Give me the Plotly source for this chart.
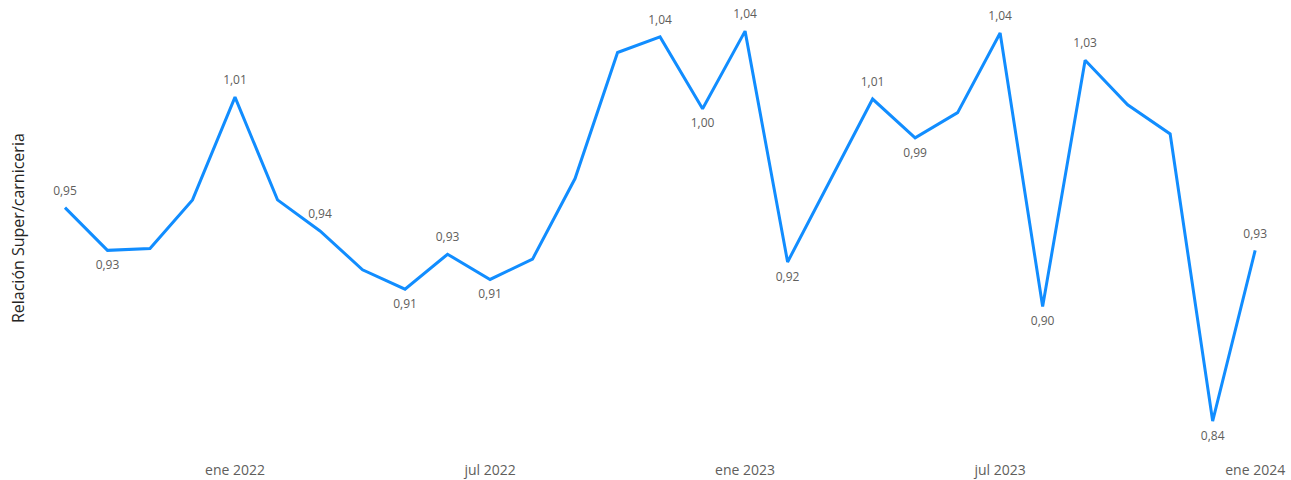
import plotly.graph_objects as go

months = ["2021-09", "2021-10", "2021-11", "2021-12", "2022-01", "2022-02", "2022-03",
          "2022-04", "2022-05", "2022-06", "2022-07", "2022-08", "2022-09", "2022-10",
          "2022-11", "2022-12", "2023-01", "2023-02", "2023-03", "2023-04", "2023-05",
          "2023-06", "2023-07", "2023-08", "2023-09", "2023-10", "2023-11", "2023-12",
          "2024-01"]
ratio = [0.950, 0.928, 0.929, 0.954, 1.007, 0.954, 0.938, 0.918, 0.908, 0.926,
         0.913, 0.9235, 0.965, 1.030, 1.038, 1.001, 1.041, 0.922, 0.964, 1.006,
         0.986, 0.999, 1.040, 0.899, 1.026, 1.003, 0.988, 0.840, 0.928]
label_pos = ["top", "bottom", None, None, "top", None, "top", None, "bottom", "top",
             "bottom", None, None, None, "top", "bottom", "top", "bottom", None, "top",
             "bottom", None, "top", "bottom", "top", None, None, "bottom", "top"]
tick_vals = ["2022-01", "2022-07", "2023-01", "2023-07", "2024-01"]
tick_text = ["ene 2022", "jul 2022", "ene 2023", "jul 2023", "ene 2024"]

texts = [(f"{v:.2f}".replace(".", ",") if p else "") for v, p in zip(ratio, label_pos)]
tpos = [("top center" if p == "top" else "bottom center") for p in label_pos]

fig = go.Figure()
fig.add_trace(go.Scatter(
    x=months, y=ratio, mode="lines+markers+text",
    line=dict(color="#118DFF", width=3),
    marker=dict(size=14, opacity=0, color="#118DFF"),
    text=texts, textposition=tpos,
    textfont=dict(family="Open Sans", size=12, color="#605E5C"),
    hoverinfo="skip", showlegend=False, cliponaxis=False,
))

fig.add_annotation(
    text="Relación Super/carniceria", textangle=-90,
    xref="paper", yref="paper", x=-0.0219, y=0.51,
    xanchor="center", yanchor="middle", showarrow=False,
    font=dict(family="Open Sans", size=16, color="#252423"),
)

fig.update_layout(
    width=1291, height=480,
    margin=dict(l=45, r=15, t=10, b=25, autoexpand=False),
    paper_bgcolor="white", plot_bgcolor="white",
    font=dict(family="Open Sans", color="#605E5C"),
    xaxis=dict(type="category", tickmode="array", tickvals=tick_vals, ticktext=tick_text,
               range=[-0.47, 28.49], showgrid=False, zeroline=False, showline=False,
               ticks="", automargin=False, ticklabelstandoff=5,
               tickfont=dict(size=14, color="#605E5C")),
    yaxis=dict(range=[0.8225, 1.0519], showgrid=False, zeroline=False, showline=False,
               showticklabels=False, ticks="", automargin=False),
)

fig.write_html("out.html", config={"displayModeBar": False},
               post_script="document.body.style.margin='0';document.body.style.overflow='hidden';")
